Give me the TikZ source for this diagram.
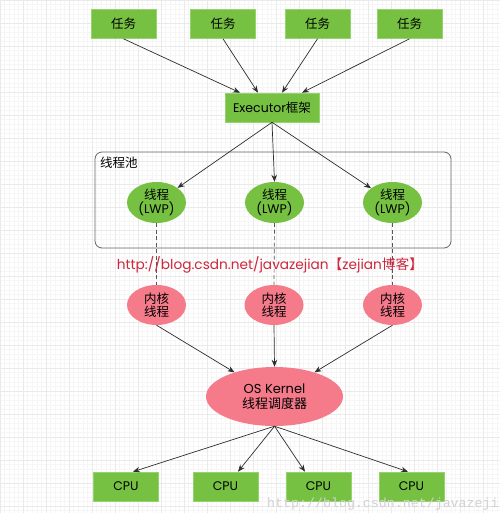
\documentclass[tikz,border=0pt]{standalone}
\usepackage{fontspec}
\setmainfont{Noto Sans CJK SC}
\newfontfamily\lat{Poppins}
\newfontfamily\wmfont{Liberation Mono}
\usetikzlibrary{arrows.meta,calc,shapes.geometric}
\definecolor{gbox}{RGB}{118,193,66}
\definecolor{gline}{RGB}{150,210,110}
\definecolor{pinkc}{RGB}{245,122,138}
\definecolor{urlred}{RGB}{205,40,60}
\definecolor{arrc}{RGB}{45,45,45}
\definecolor{gridmin}{RGB}{246,246,246}
\definecolor{gridmaj}{RGB}{234,234,234}
\begin{document}
\begin{tikzpicture}[x=1pt,y=-1pt,
  txt/.style={font=\fontsize{12.5}{13.5}\selectfont, text=black},
  taskbox/.style={rectangle, fill=gbox, draw=gline, line width=0.6pt, minimum width=65pt, minimum height=29pt, inner sep=0pt, txt},
  thr/.style={ellipse, fill=gbox, minimum width=59pt, minimum height=41pt, inner sep=0pt, align=center, txt},
  kern/.style={ellipse, fill=pinkc, minimum width=59pt, minimum height=40pt, inner sep=0pt, align=center, txt},
  arr/.style={-{Stealth[length=7pt,width=5.5pt]}, draw=arrc, line width=0.7pt},
  dsh/.style={draw=arrc!80, line width=0.7pt, dash pattern=on 4pt off 2.5pt},
]
\useasboundingbox (0,0) rectangle (500,513);
\fill[white] (0,0) rectangle (500,513);
\draw[gridmin, line width=0.4pt, step=4.6pt] (0,0) grid (500,513);
\draw[gridmaj, line width=0.5pt, step=23pt] (0,0) grid (500,513);

% tasks
\node[taskbox] (t1) at (123.5,24) {任务};
\node[taskbox] (t2) at (223,24) {任务};
\node[taskbox] (t3) at (317.5,24) {任务};
\node[taskbox] (t4) at (409.5,24) {任务};

\node[taskbox, minimum width=94pt] (ex) at (272,107.5) {{\lat Executor}框架};

% pool
\node[draw=black!60, line width=0.8pt, rounded corners=7pt, minimum width=356pt, minimum height=96pt, inner sep=0pt] (pool) at (273,200) {};
\node[txt, anchor=west, inner sep=0pt] (poollbl) at (100,163) {线程池};

\node[thr] (e1) at (156.5,202.5) {线程\\{\lat (LWP)}};
\node[thr] (e2) at (274.5,202.5) {线程\\{\lat (LWP)}};
\node[thr] (e3) at (392.5,202.5) {线程\\{\lat (LWP)}};

\node[kern] (k1) at (156.5,305) {内核\\线程};
\node[kern] (k2) at (274,305) {内核\\线程};
\node[kern] (k3) at (392.5,305) {内核\\线程};

\node[ellipse, fill=pinkc, minimum width=137pt, minimum height=59pt, inner sep=0pt, align=center, font=\fontsize{13}{14.5}\selectfont] (os) at (274.5,396.5) {{\lat OS Kernel}\\线程调度器};

\node[taskbox] (c1) at (126,486.5) {\lat CPU};
\node[taskbox] (c2) at (225.5,486.5) {\lat CPU};
\node[taskbox] (c3) at (318.5,486.5) {\lat CPU};
\node[taskbox] (c4) at (411.5,486.5) {\lat CPU};

% dashed lines
\draw[dsh] (e1.south) -- (k1.north);
\draw[dsh] (e2.south) -- (k2.north);
\draw[dsh] (e3.south) -- (k3.north);

% url text
\node[text=urlred, font=\fontsize{13.7}{15}\selectfont, inner sep=0pt] (url) at (270,265) {{\lat http://blog.csdn.net/javazejian}【{\lat zejian}博客】};

% arrows
\draw[arr] (t1.south) -- ([xshift=-32pt]ex.north);
\draw[arr] (t2.south) -- ([xshift=-14pt]ex.north);
\draw[arr] (t3.south) -- ([xshift=10pt]ex.north);
\draw[arr] (t4.south) -- ([xshift=30pt]ex.north);

\draw[arr] (ex.south) -- (e1);
\draw[arr] (ex.south) -- (e2.north);
\draw[arr] (ex.south) -- (e3);

\draw[arr] (k1.south) -- (os);
\draw[arr] (k2.south) -- (os.north);
\draw[arr] (k3.south) -- (os);

\draw[arr] (os.south) -- ([xshift=7pt]c1.north);
\draw[arr] (os.south) -- ([xshift=12.5pt]c2.north);
\draw[arr] (os.south) -- ([xshift=-13.5pt]c3.north);
\draw[arr] (os.south) -- ([xshift=-3.5pt]c4.north);

% watermark
\node[anchor=base west, inner sep=0pt, text=black!18, font=\wmfont\fontsize{13.3}{14}\selectfont] (wm) at (267,507) {http://blog.csdn.net/javazeji};
\end{tikzpicture}
\end{document}
